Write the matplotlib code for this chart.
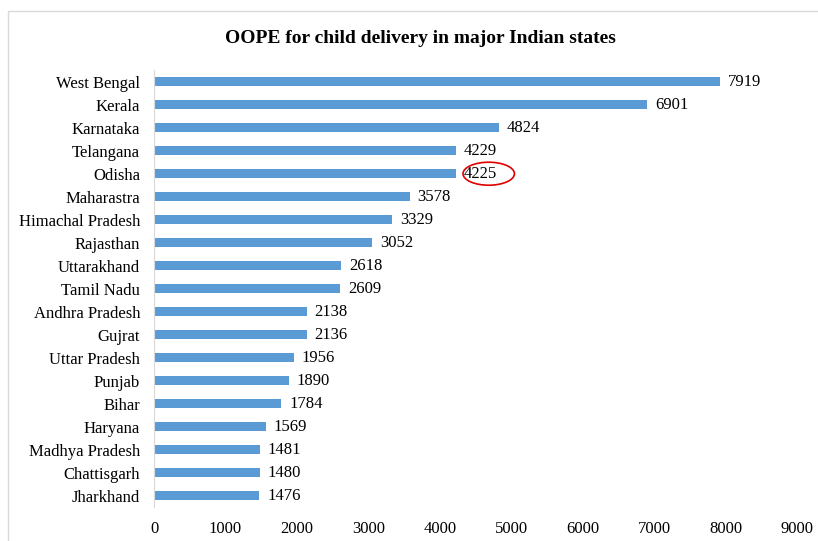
import matplotlib
matplotlib.use("Agg")
import matplotlib.pyplot as plt
from matplotlib.patches import Ellipse, Rectangle

states = ["West Bengal", "Kerala", "Karnataka", "Telangana", "Odisha", "Maharastra",
          "Himachal Pradesh", "Rajasthan", "Uttarakhand", "Tamil Nadu", "Andhra Pradesh",
          "Gujrat", "Uttar Pradesh", "Punjab", "Bihar", "Haryana", "Madhya Pradesh",
          "Chattisgarh", "Jharkhand"]
values = [7919, 6901, 4824, 4229, 4225, 3578, 3329, 3052, 2618, 2609, 2138, 2136,
          1956, 1890, 1784, 1569, 1481, 1480, 1476]
xticks = [0, 1000, 2000, 3000, 4000, 5000, 6000, 7000, 8000, 9000]
highlight = "Odisha"

plt.rcParams['font.family'] = ['Liberation Serif', 'DejaVu Serif']

fig = plt.figure(figsize=(8.18, 5.41), dpi=100)
ax = fig.add_axes([0.1883, 0.0625, 0.786, 0.8077])

ypos = list(range(len(states)))
ax.barh(ypos, values, height=0.4, color="#5B9BD5")
ax.set_ylim(len(states) - 0.5, -0.5)
ax.set_xlim(0, 9000)
ax.set_yticks(ypos)
ax.set_yticklabels(states, fontsize=12)
ax.set_xticks(xticks)
ax.set_xticklabels([str(t) for t in xticks], fontsize=12)
ax.tick_params(axis='both', length=0)
ax.tick_params(axis='y', pad=10)
ax.tick_params(axis='x', pad=10)
for s in ["top", "right", "bottom"]:
    ax.spines[s].set_visible(False)
ax.spines["left"].set_color("#D9D9D9")

for y, v in zip(ypos, values):
    ax.text(v + 110, y, str(v), va="center", ha="left", fontsize=12)

hi = states.index(highlight)
hv = values[hi]
ell = Ellipse((hv + 460, hi), width=720, height=1.0, fill=False,
              edgecolor="#E00000", linewidth=1.2, clip_on=False)
ax.add_patch(ell)

fig.text(0.514, 0.929, "OOPE for child delivery in major Indian states",
         ha="center", va="center", fontsize=14, fontweight="bold")

fig.patches.append(Rectangle((0.0098, -0.05), 1.2, 0.05 + 0.9797, transform=fig.transFigure,
                             fill=False, edgecolor="#D9D9D9", linewidth=1.0))

fig.savefig("out.png", dpi=100)
